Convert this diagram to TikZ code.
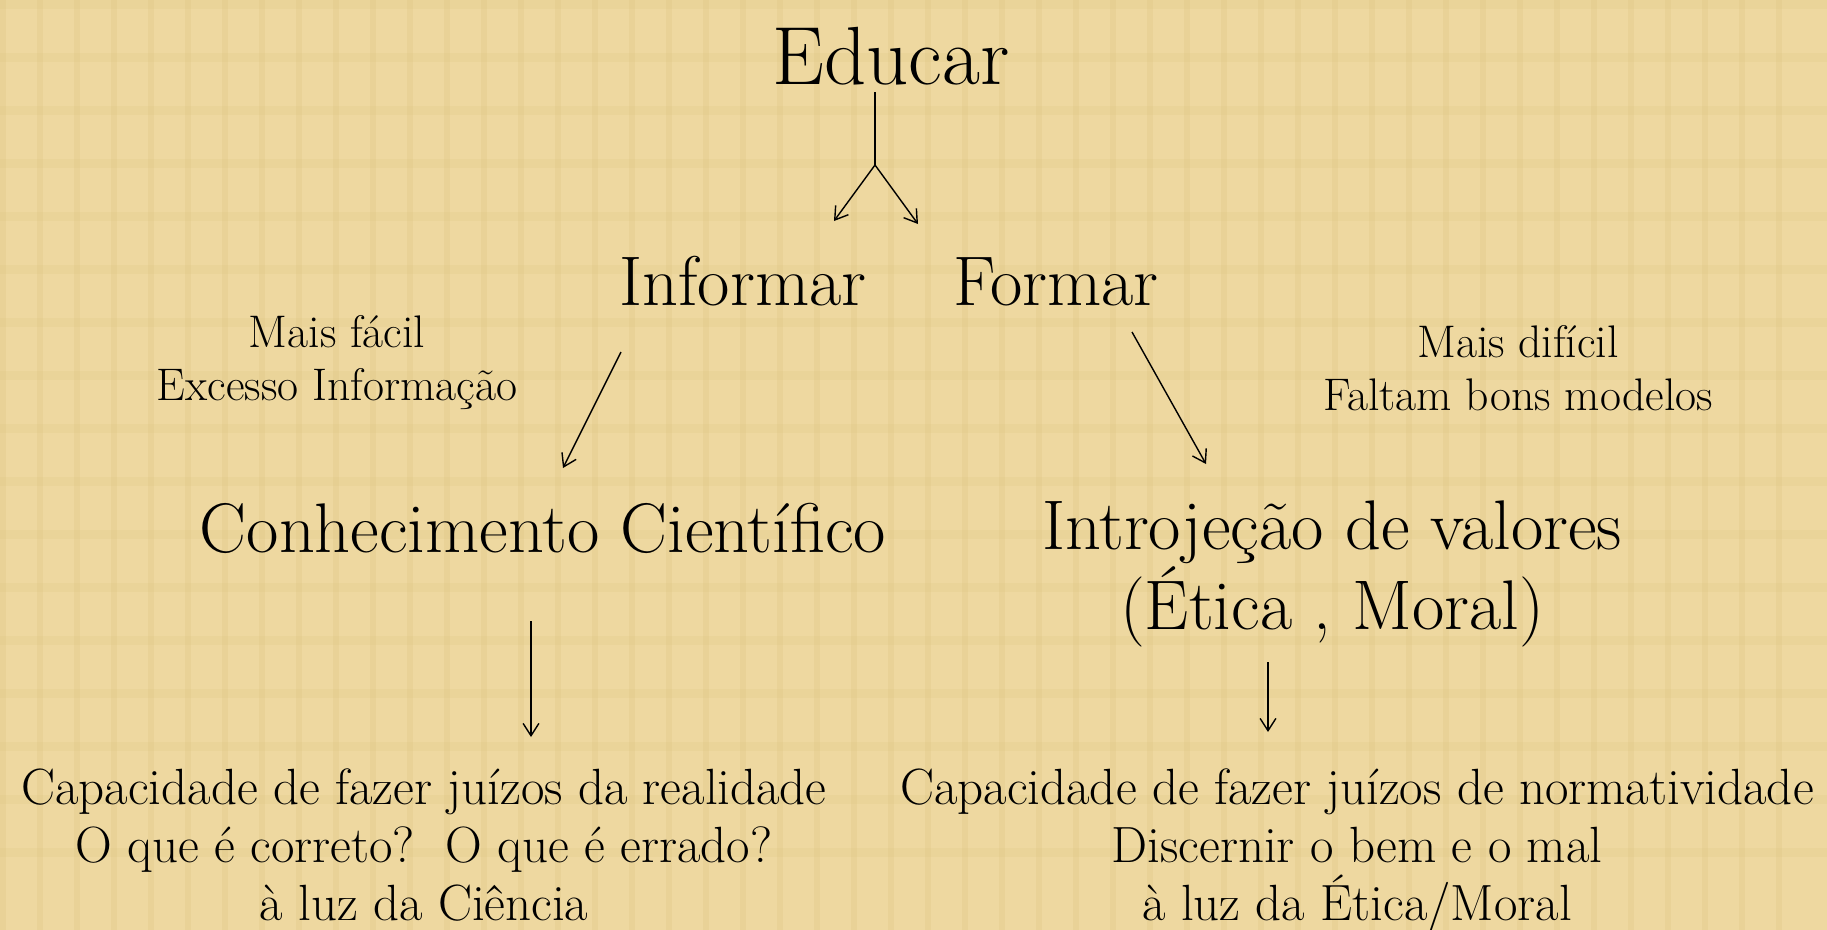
\documentclass[tikz,border=0pt]{standalone}
\usetikzlibrary{arrows.meta}
\definecolor{papiro}{RGB}{238,216,160}
\definecolor{papiroescuro}{RGB}{222,196,128}
\tikzset{
  grande/.style={font=\fontsize{40}{45}\selectfont, inner sep=0pt, anchor=base, align=center},
  pequeno/.style={font=\fontsize{26}{30}\selectfont, inner sep=0pt, anchor=base, align=center},
  medio/.style={font=\fontsize{29}{33}\selectfont, inner sep=0pt, anchor=base, align=center},
  seta/.style={-{Straight Barb[length=7pt,width=9pt]}, line width=0.8pt}
}
\begin{document}
\begin{tikzpicture}[x=0.02cm, y=-0.02cm]
\useasboundingbox (0,0) rectangle (1827,930);
\fill[papiro] (0,0) rectangle (1827,930);
% faint texture
\foreach \i in {0,37,...,1800}
  \fill[papiroescuro, opacity=.25] (\i,0) rectangle (\i+6,930);
\foreach \j in {0,53,...,900}
  \fill[papiroescuro, opacity=.2] (0,\j) rectangle (1827,\j+9);

\node[grande, font=\fontsize{47}{50}\selectfont] (educar) at (891,84) {Educar};
\node[grande] (informar) at (743,305) {Informar};
\node[grande] (formar) at (1056,305) {Formar};

% base of a multi-line node = its last line
\node[pequeno] (facil) at (337,400) {Mais fácil\\Excesso Informação};
\node[pequeno] (dificil) at (1518,410) {Mais difícil\\Faltam bons modelos};

\node[grande] (conhecimento) at (543,552) {Conhecimento Científico};
\node[grande] (introjecao) at (1332,629) {Introjeção de valores\\(Ética , Moral)};

\node[medio] (realidade) at (424,920) {Capacidade de fazer juízos da realidade\\O que é correto?~~O que é errado?\\à luz da Ciência};
\node[medio] (normatividade) at (1357,920) {Capacidade de fazer juízos de normatividade\\Discernir o bem e o mal\\à luz da Ética/Moral};

\coordinate (fork) at (875,165); % split point.
\coordinate (inf-in) at (834,221);
\coordinate (for-in) at (918,224);
\coordinate (inf-out) at (621,352);
\coordinate (con-in) at (563,468);
\coordinate (for-out) at (1132,332);
\coordinate (int-in) at (1206,464);
\coordinate (con-out) at (531,621);
\coordinate (real-in) at (531,737);
\coordinate (int-out) at (1268,662);
\coordinate (norm-in) at (1268,732);

\draw[line width=0.8pt] (educar.south -| fork) ++(0,7) -- (fork);
\draw[seta] (fork) -- (inf-in);
\draw[seta] (fork) -- (for-in);

\draw[seta] (inf-out) -- (con-in);
\draw[seta] (for-out) -- (int-in);

\draw[seta] (con-out) -- (real-in);
\draw[seta] (int-out) -- (norm-in);
\end{tikzpicture}
\end{document}
